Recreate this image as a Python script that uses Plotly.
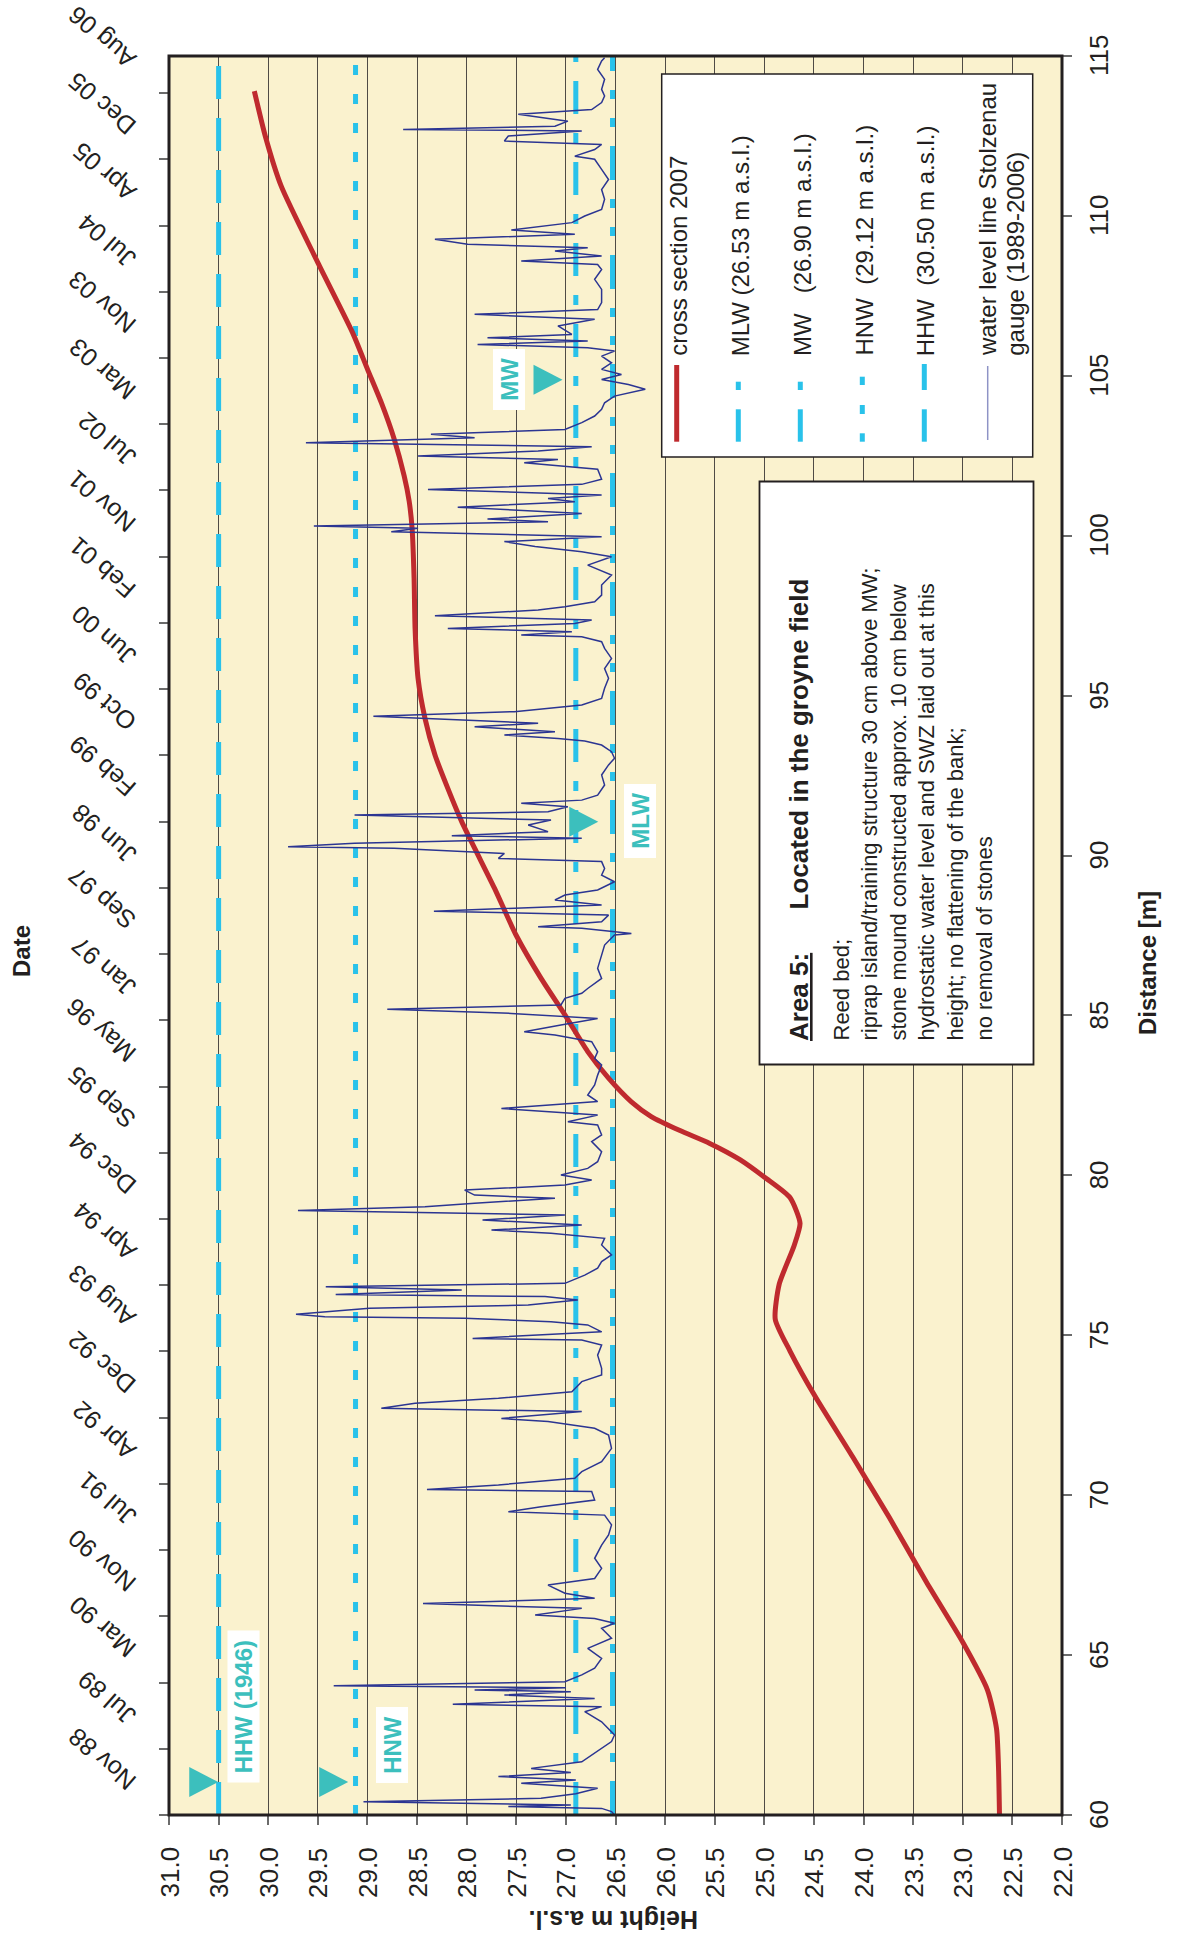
import plotly.graph_objects as go
import pandas as pd

FONT = "Liberation Sans, Arial, Helvetica, sans-serif"
INK = "#231F20"
CYAN = "#29C2EA"
TEAL = "#3CBFBD"
RED = "#BF2A2E"
BLUE = "#2B3592"
CREAM = "#FAF2CE"

# ---------------- axis tick labels ----------------
height_ticks = [31.0, 30.5, 30.0, 29.5, 29.0, 28.5, 28.0, 27.5, 27.0, 26.5,
                26.0, 25.5, 25.0, 24.5, 24.0, 23.5, 23.0, 22.5, 22.0]
distance_ticks = [60, 65, 70, 75, 80, 85, 90, 95, 100, 105, 110, 115]
date_tick_labels = ["Nov 88", "Jul 89", "Mar 90", "Nov 90", "Jul 91", "Apr 92", "Dec 92",
                    "Aug 93", "Apr 94", "Dec 94", "Sep 95", "May 96", "Jan 97", "Sep 97",
                    "Jun 98", "Feb 99", "Oct 99", "Jun 00", "Feb 01", "Nov 01", "Jul 02",
                    "Mar 03", "Nov 03", "Jul 04", "Apr 05", "Dec 05", "Aug 06"]
DATE_START = "1988-11-01"
DATE_STEP_DAYS = 250
DATE_AXIS_END_DAY = 6640

# ---------------- cross section 2007 ----------------
red_distance = [60.0, 61.5, 62.7, 63.9, 65.4, 67.3, 69.3, 71.2, 73.1, 74.5, 75.5, 76.6,
                77.8, 78.5, 79.3, 79.9, 80.5, 81.0, 81.4, 81.84, 82.3, 83.04, 83.87, 85.02,
                86.16, 87.5, 88.98, 90.23, 91.06, 92.1, 93.15, 94.29, 95.54, 97.11,
                98.67, 100.23, 101.09, 101.87, 103.02, 104.16, 105.21, 106.35, 108.54,
                110.94, 112.5, 113.9]
red_height = [22.63, 22.64, 22.66, 22.75, 23.0, 23.37, 23.74, 24.11, 24.49, 24.74, 24.89,
              24.85, 24.7, 24.64, 24.74, 24.98, 25.25, 25.55, 25.85, 26.14, 26.34, 26.57,
              26.78, 27.01, 27.25, 27.5, 27.72, 27.92, 28.05, 28.19, 28.32, 28.42, 28.49,
              28.52, 28.53, 28.55, 28.58, 28.63, 28.73, 28.86, 29.0, 29.15, 29.5, 29.87,
              30.03, 30.14]

# ---------------- characteristic water levels ----------------
ref_names = ["MLW", "MW", "HNW", "HHW"]
ref_levels = [26.53, 26.90, 29.12, 30.50]
ref_dash = ["34px,19px,9px,19px,9px,19px", "33px,19px,10px,19px", "10px,19px", "33px,19px"]

# ---------------- water level Stolzenau gauge (days since 1 Nov 1988) ----------------
wl_day = [0, 13, 25, 32, 38, 50, 63, 80, 101, 120, 132, 145, 160, 176, 201, 227, 277, 302,
          352, 390, 409, 418, 440, 453, 465, 472, 480, 488, 503, 529, 554, 591, 629, 667,
          705, 724, 742, 755, 780, 798, 818, 837, 868, 893, 931, 969, 1019, 1057, 1095,
          1132, 1145, 1164, 1189, 1221, 1229, 1246, 1271, 1296, 1334, 1384, 1434, 1460,
          1485, 1497, 1523, 1535, 1554, 1573, 1598, 1636, 1661,
          1686, 1736, 1774, 1793, 1799, 1824, 1850, 1862, 1875, 1881, 1890, 1913, 1925,
          1944, 1957, 1965, 1982, 1994, 2007, 2038, 2064, 2089, 2114, 2152, 2177, 2196,
          2208, 2227, 2246, 2265, 2282, 2296, 2309, 2328, 2340, 2359, 2378, 2397, 2416,
          2441, 2466, 2504, 2542, 2567, 2605, 2617, 2642, 2667, 2693, 2718, 2756, 2793,
          2831, 2856, 2881, 2919, 2944, 2957, 2982, 3007, 3026, 3042, 3058, 3083, 3102,
          3120, 3158, 3196, 3246, 3284, 3322,
          3328, 3347, 3353, 3372, 3397, 3412, 3435, 3454, 3473, 3492, 3523, 3548, 3573,
          3599, 3611, 3630, 3649, 3655, 3668, 3687, 3697, 3712, 3737, 3756, 3775, 3787,
          3806, 3819, 3831, 3850, 3888, 3926, 3964, 3989, 4014, 4039, 4054, 4064, 4077,
          4089, 4108, 4121, 4140, 4148, 4165, 4190, 4215, 4253, 4291, 4328, 4366, 4404,
          4429, 4448, 4454, 4467, 4479, 4498, 4511, 4527, 4549, 4561, 4580, 4605, 4643,
          4681, 4718, 4750, 4769, 4788, 4807, 4825, 4844, 4857, 4866, 4882, 4892, 4913,
          4937, 4957, 4970, 4983,
          5004, 5023, 5042, 5080, 5105, 5117, 5130, 5149, 5165, 5180, 5199, 5212, 5230,
          5256, 5281, 5306, 5331, 5356, 5382, 5400, 5419, 5438, 5457, 5482, 5507, 5526,
          5539, 5551, 5564, 5576, 5589, 5621, 5646, 5665, 5683, 5709, 5759, 5797, 5834,
          5853, 5866, 5885, 5904, 5916, 5929, 5948, 5967, 5983, 6011, 6036, 6061, 6099,
          6136, 6174, 6212, 6250, 6262, 6287, 6306, 6319, 6338, 6357, 6363, 6375, 6394,
          6420, 6438, 6464, 6489, 6514, 6552, 6589, 6621, 6633]
wl_level = [26.51, 26.54, 26.64, 27.58, 26.95, 29.04, 27.25, 26.90, 26.68, 27.45, 26.90,
            27.68, 26.95, 27.35, 26.84, 26.74, 26.54, 26.51, 26.64, 26.81, 26.64, 28.14,
            26.71, 27.62, 26.95, 27.92, 27.00, 29.34, 27.01, 26.84, 26.71, 26.64, 26.78,
            26.54, 26.64, 26.51, 26.71, 27.31, 26.84, 28.44, 26.71, 27.01, 27.18, 26.71,
            26.64, 26.71, 26.64, 26.57, 26.54, 26.61, 27.58, 27.25, 26.71, 26.74, 28.40,
            27.68, 26.91, 26.84, 26.64, 26.54, 26.57, 26.71, 27.18, 27.65, 26.84, 28.86,
            28.52, 27.68, 26.94, 26.84, 26.64,
            26.64, 26.68, 26.64, 26.84, 27.94, 26.64, 26.78, 27.15, 28.02, 29.43, 29.72,
            28.98, 27.38, 26.88, 27.21, 29.32, 28.05, 29.42, 27.01, 26.81, 26.68, 26.64,
            26.54, 26.64, 26.61, 27.15, 27.75, 26.84, 27.84, 27.01, 29.70, 28.42, 27.92,
            27.11, 27.92, 28.02, 27.01, 26.74, 27.05, 26.78, 26.68, 26.64, 26.74, 26.64,
            26.68, 26.98, 26.68, 27.65, 26.68, 26.78, 26.71, 26.68, 26.64, 26.71, 26.68,
            26.74, 27.11, 27.42, 27.05, 26.68, 27.55, 28.80, 27.05, 27.01, 26.84, 26.78,
            26.64, 26.68, 26.64, 26.61, 26.51,
            26.34, 26.84, 27.28, 26.64, 26.57, 28.33, 26.64, 27.11, 27.01, 26.68, 26.51,
            26.64, 26.61, 26.64, 27.68, 27.62, 28.73, 29.80, 29.13, 26.84, 28.15, 27.18,
            27.38, 27.15, 29.13, 27.18, 26.98, 27.45, 26.84, 26.68, 26.61, 26.64, 26.57,
            26.51, 26.54, 26.64, 26.81, 27.08, 27.62, 27.11, 27.92, 27.28, 28.52, 28.94,
            27.52, 26.84, 26.64, 26.61, 26.57, 26.61, 26.54, 26.61, 26.64, 26.84, 27.45,
            26.94, 28.19, 26.91, 26.74, 28.32, 27.28, 27.01, 26.71, 26.64, 26.64, 26.54,
            26.78, 26.54, 26.84, 27.31, 27.62, 26.64, 28.76, 28.49, 29.54, 27.18, 27.79,
            26.84, 28.09, 26.91, 27.18, 26.64,
            28.39, 26.84, 26.64, 26.68, 27.42, 27.08, 28.49, 27.28, 26.74, 29.62, 27.92,
            28.36, 27.01, 26.84, 26.71, 26.64, 26.61, 26.51, 26.20, 26.37, 26.64, 26.44,
            26.64, 26.54, 26.64, 26.51, 26.78, 27.89, 26.78, 27.79, 26.94, 27.08, 26.71,
            27.92, 26.68, 26.64, 26.64, 26.71, 26.64, 26.68, 27.45, 26.64, 27.11, 26.78,
            27.99, 28.32, 26.91, 27.55, 26.94, 26.81, 26.64, 26.61, 26.64, 26.57, 26.64,
            26.71, 26.91, 26.71, 26.64, 27.62, 27.58, 26.84, 28.64, 27.11, 26.98, 27.48,
            26.74, 26.64, 26.61, 26.64, 26.61, 26.68, 26.64, 26.61]

# ---------------- label texts ----------------
legend_texts = ["cross section 2007", "MLW (26.53 m a.s.l.)",
                "MW\u00a0\u00a0\u00a0(26.90 m a.s.l.)", "HNW\u00a0\u00a0(29.12 m a.s.l.)",
                "HHW\u00a0\u00a0(30.50 m a.s.l.)", "water level line Stolzenau",
                "gauge (1989-2006)"]
box_title = "<b><u>Area 5:</u>\u00a0\u00a0\u00a0\u00a0\u00a0\u00a0Located in the groyne field</b>"
box_lines = ["Reed bed;",
             "riprap island/training structure 30 cm above MW;",
             "stone mound constructed approx. 10 cm below",
             "hydrostatic water level and SWZ laid out at this",
             "height; no flattening of the bank;",
             "no removal of stones"]
level_label_texts = ["HHW (1946)", "HNW", "MW", "MLW"]
# marker anchor positions (height, distance) of the label triangles
tri_height = [30.65, 29.34, 27.18, 26.82]
tri_distance = [61.03, 61.03, 104.88, 91.06]

# ---------------- geometry helpers ----------------
W, H = 1178, 1936
ML, MR, MT, MB = 169, 116, 56, 121
PW, PH = W - ML - MR, H - MT - MB


def pxx(x):
    return (x - ML) / PW


def pxy(y):
    return (H - MB - y) / PH


start = pd.Timestamp(DATE_START)
wl_dates = [start + pd.Timedelta(days=d) for d in wl_day]
tick_dates = [start + pd.Timedelta(days=DATE_STEP_DAYS * k) for k in range(len(date_tick_labels))]
date_end = start + pd.Timedelta(days=DATE_AXIS_END_DAY)

fig = go.Figure()

for name, lvl, dash in zip(ref_names, ref_levels, ref_dash):
    fig.add_trace(go.Scatter(x=[lvl, lvl], y=[60, 115], mode="lines", name=name,
                             line=dict(color=CYAN, width=5, dash=dash), hoverinfo="skip"))

fig.add_trace(go.Scatter(x=red_height, y=red_distance, mode="lines", name="cross section 2007",
                         line=dict(color=RED, width=5, shape="spline", smoothing=0.6)))

fig.add_trace(go.Scatter(x=wl_level, y=wl_dates, yaxis="y2", mode="lines",
                         name="water level line Stolzenau gauge (1989-2006)",
                         line=dict(color=BLUE, width=1.5)))

shapes = []
# triangles
for th, td in zip(tri_height, tri_distance):
    shapes.append(dict(type="path", xref="x", yref="y", xsizemode="pixel", ysizemode="pixel",
                       xanchor=th, yanchor=td, path="M -14.5 -15 L 14.5 0 L -14.5 15 Z",
                       fillcolor=TEAL, line=dict(width=0), layer="above"))
# legend box
shapes.append(dict(type="rect", xref="paper", yref="paper", x0=pxx(661.7), x1=pxx(1032.7),
                   y0=pxy(457), y1=pxy(74), fillcolor="white",
                   line=dict(color=INK, width=1.5), layer="above"))
# text box
shapes.append(dict(type="rect", xref="paper", yref="paper", x0=pxx(759.5), x1=pxx(1033.5),
                   y0=pxy(1064.5), y1=pxy(481.5), fillcolor="white",
                   line=dict(color=INK, width=1.8), layer="above"))


def seg(x, y0, y1, color, width):
    return dict(type="line", xref="paper", yref="paper", x0=pxx(x), x1=pxx(x),
                y0=pxy(y0), y1=pxy(y1), line=dict(color=color, width=width), layer="above")


# legend symbols
shapes.append(seg(676.7, 365, 441.7, RED, 5))
for x in (738.3, 800.3):
    shapes.append(seg(x, 381.7, 390, CYAN, 5))
    shapes.append(seg(x, 409.3, 441.7, CYAN, 5))
for a, b in ((376.7, 385), (405, 414), (433.3, 441.7)):
    shapes.append(seg(862.3, a, b, CYAN, 5))
shapes.append(seg(924.3, 364, 390, CYAN, 5))
shapes.append(seg(924.3, 409.3, 441.7, CYAN, 5))
shapes.append(seg(987.7, 366, 440, "#8E93C6", 1.5))
# plot border
shapes.append(dict(type="rect", xref="paper", yref="paper", x0=0, x1=1, y0=0, y1=1,
                   line=dict(color=INK, width=3), layer="above"))

ann = []
tickfont = dict(family=FONT, size=26, color=INK)
# height tick labels (rotated, reading upward)
for v in height_ticks:
    ann.append(dict(x=v, y=pxy(1845), xref="x", yref="paper", text=f"{v:.1f}",
                    showarrow=False, textangle=-90, xanchor="center", yanchor="top",
                    font=tickfont))
# distance tick labels
for v in distance_ticks:
    ann.append(dict(x=pxx(1099), y=v, xref="paper", yref="y", text=str(v),
                    showarrow=False, textangle=-90, xanchor="center", yanchor="middle",
                    font=tickfont))
# date tick labels
for d, lab in zip(tick_dates, date_tick_labels):
    ann.append(dict(x=0, y=d, xref="paper", yref="y2", text=lab, showarrow=False,
                    textangle=-139, xanchor="right", yanchor="bottom", xshift=-25, yshift=16,
                    font=dict(family=FONT, size=25, color=INK)))
# axis titles
ann.append(dict(x=pxx(22), y=pxy(951), xref="paper", yref="paper", text="<b>Date</b>",
                showarrow=False, textangle=-90, xanchor="center", yanchor="middle",
                font=dict(family=FONT, size=24, color=INK)))
ann.append(dict(x=pxx(1148), y=pxy(963), xref="paper", yref="paper", text="<b>Distance [m]</b>",
                showarrow=False, textangle=-90, xanchor="center", yanchor="middle",
                font=dict(family=FONT, size=24, color=INK)))
ann.append(dict(x=pxx(614), y=pxy(1920), xref="paper", yref="paper",
                text="<b>Height m a.s.l.</b>", showarrow=False, textangle=180,
                xanchor="center", yanchor="middle",
                font=dict(family=FONT, size=25, color=INK)))
# level labels
label_centers = [(243.5, 1706.5), (391.5, 1745), (509.5, 380), (639.5, 821)]
for t, (cx, cy) in zip(level_label_texts, label_centers):
    ann.append(dict(x=pxx(cx), y=pxy(cy), xref="paper", yref="paper",
                    text="<b>\u00a0" + t + "\u00a0</b>", showarrow=False, textangle=-90,
                    xanchor="center", yanchor="middle",
                    bgcolor="white", borderpad=2, font=dict(family=FONT, size=24, color=TEAL)))
# legend texts
legend_cols = [678.7, 740.8, 802.5, 864.0, 925.8, 987.5, 1015.8]
for t, cx in zip(legend_texts, legend_cols):
    ann.append(dict(x=pxx(cx), y=pxy(358), xref="paper", yref="paper", text=t,
                    showarrow=False, textangle=-90, xanchor="center", yanchor="bottom",
                    font=dict(family=FONT, size=24, color=INK)))
# text box
ann.append(dict(x=pxx(799), y=pxy(1043), xref="paper", yref="paper", text=box_title,
                showarrow=False, textangle=-90, xanchor="center", yanchor="bottom",
                font=dict(family=FONT, size=26, color=INK)))
ann.append(dict(x=pxx(912), y=pxy(1043), xref="paper", yref="paper",
                text="<br>".join(box_lines), align="left",
                showarrow=False, textangle=-90, xanchor="center", yanchor="bottom",
                font=dict(family=FONT, size=22, color=INK)))

fig.update_layout(
    width=W, height=H,
    margin=dict(l=ML, r=MR, t=MT, b=MB, pad=0),
    paper_bgcolor="white", plot_bgcolor=CREAM,
    showlegend=False,
    font=dict(family=FONT, color=INK),
    xaxis=dict(range=[31, 22], tickmode="array", tickvals=height_ticks, showticklabels=False,
               ticks="outside", ticklen=9, tickwidth=1.5, tickcolor="#6b6b6b",
               showgrid=True, gridcolor="#4f4b45", gridwidth=1.3, zeroline=False,
               showline=False),
    yaxis=dict(range=[60, 115], tickmode="array", tickvals=distance_ticks, side="right",
               showticklabels=False, ticks="outside", ticklen=9, tickwidth=1.5,
               tickcolor="#6b6b6b", showgrid=False, zeroline=False, showline=False),
    yaxis2=dict(type="date", overlaying="y", side="left", range=[start, date_end],
                tickmode="array", tickvals=tick_dates, showticklabels=False,
                ticks="outside", ticklen=9, tickwidth=1.5, tickcolor="#6b6b6b",
                showgrid=False, zeroline=False, showline=False),
    shapes=shapes, annotations=ann,
)

fig.write_html("out.html", config={"displayModeBar": False},
               post_script="document.body.style.margin='0';")
